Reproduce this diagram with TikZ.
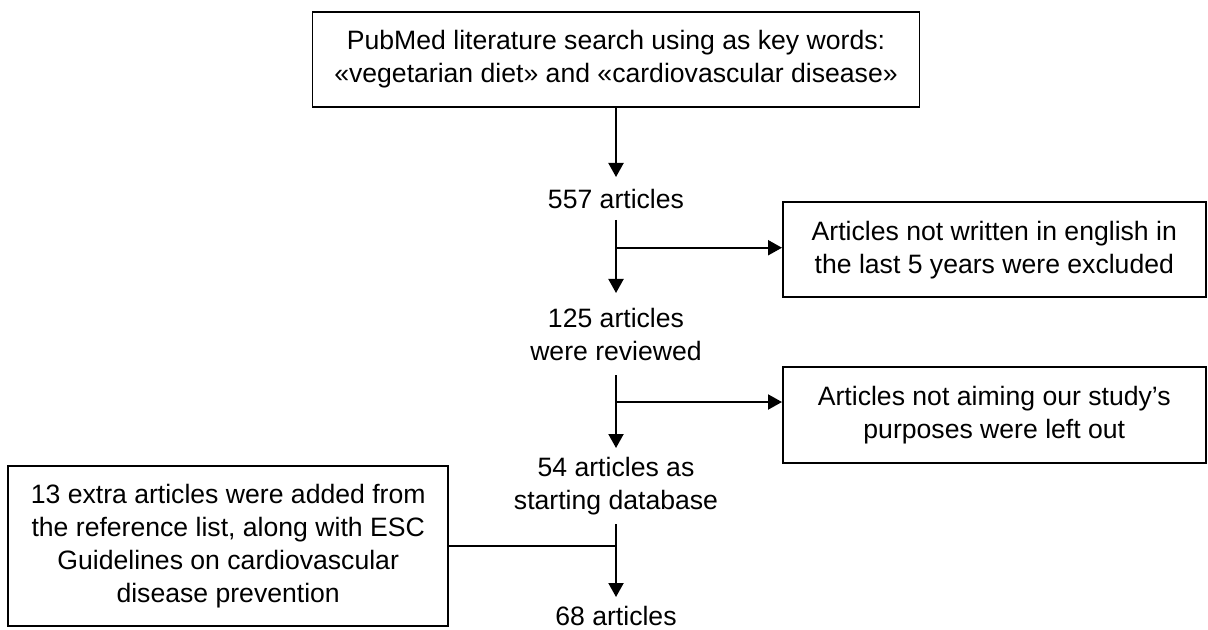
\documentclass[tikz,border=0pt]{standalone}
\usepackage{fontspec}
\setmainfont{Liberation Sans}
\usetikzlibrary{arrows.meta, positioning, calc}

\begin{document}
\begin{tikzpicture}[
    node distance=36.5pt,
    font=\fontsize{13.3}{16.5}\selectfont,
    search/.style={rectangle, draw, line width=0.8pt, minimum width=303.5pt, minimum height=47.5pt, align=center, inner sep=0pt, outer sep=0pt},
    count/.style={rectangle, align=center, inner sep=0pt, outer sep=0pt},
    excl/.style={rectangle, draw, line width=0.8pt, minimum width=211.5pt, minimum height=47.5pt, align=center, inner sep=0pt},
    extra/.style={rectangle, draw, line width=0.8pt, minimum width=220pt, minimum height=80pt, align=center, inner sep=0pt},
    ->, >={Triangle[length=7pt, width=7.5pt]}, line width=1pt
]
    \useasboundingbox (0,0) rectangle (604pt,-315pt);

    % Main vertical chain
    \node[search] (search) at (308pt,-29.75pt) {PubMed literature search using as key words:\\«vegetarian diet» and «cardiovascular disease»};
    \node[count, below=35pt of search, minimum height=21.5pt] (n557) {557 articles};
    \node[count, below=of n557, minimum height=41pt] (n125) {125 articles\\were reviewed};
    \node[count, below=of n125, minimum height=38pt] (n54) {54 articles as\\starting database};
    \node[count, below=of n54, minimum height=19pt] (n68) {68 articles};

    % Branch points on the main line
    \coordinate (b1) at ($(n557.south)!0.38!(n125.north)$);
    \coordinate (b2) at ($(n125.south)!0.37!(n54.north)$);
    \coordinate (b3) at ($(n54.south)!0.3!(n68.north)$);

    % Side boxes
    \node[excl, right=83pt of b1, yshift=-1pt] (lang) {Articles not written in english in\\the last 5 years were excluded};
    \node[excl, right=83pt of b2, yshift=-6.5pt, minimum height=48pt] (aim) {Articles not aiming our study’s\\purposes were left out};
    \node[extra, left=83.5pt of b3] (added) {13 extra articles were added from\\the reference list, along with ESC\\Guidelines on cardiovascular\\disease prevention};

    % Edges
    \draw (search) -- (n557);
    \draw (n557) -- (n125);
    \draw (n125) -- (n54);
    \draw (n54) -- (n68);
    \draw (b1) -- (b1 -| lang.west);
    \draw (b2) -- (b2 -| aim.west);
    \draw[-] (added) -- (b3);
\end{tikzpicture}
\end{document}
